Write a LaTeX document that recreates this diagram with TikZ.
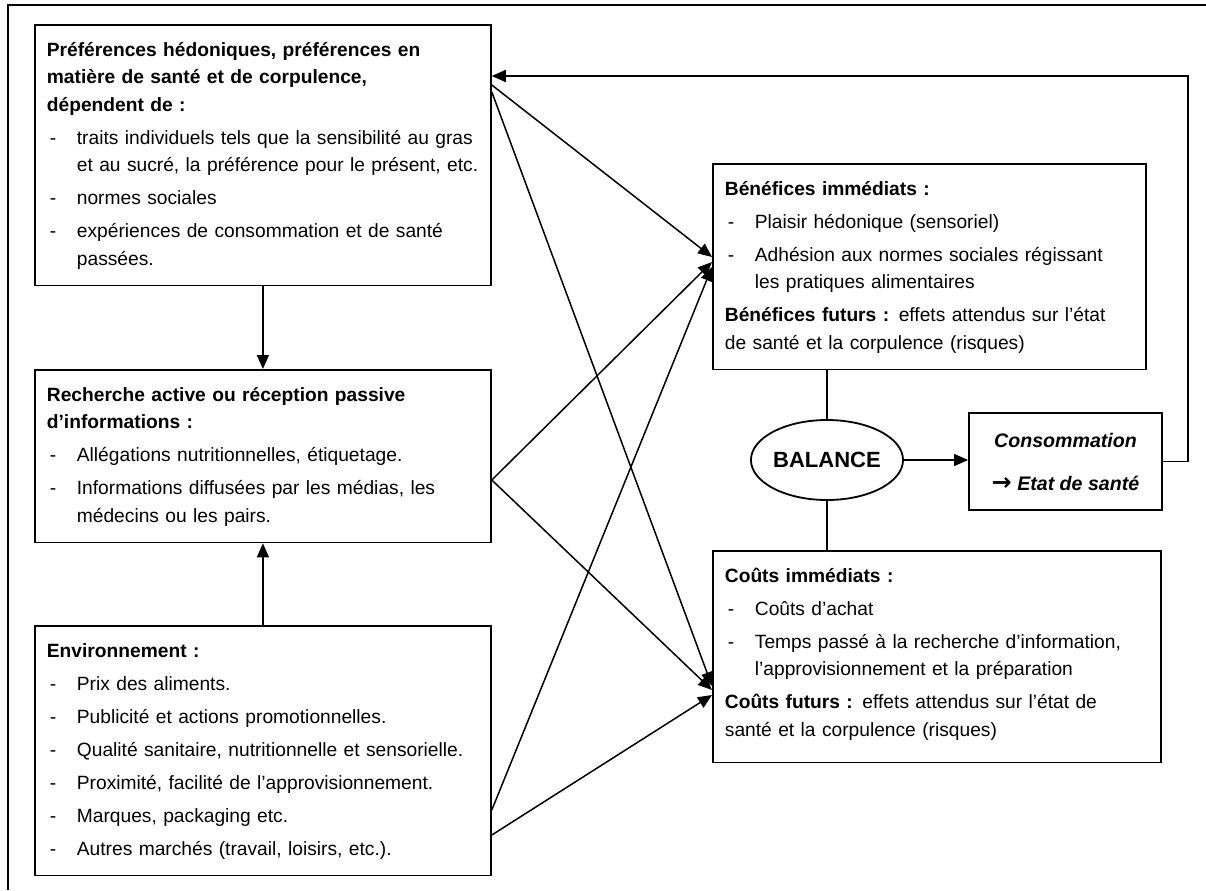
\documentclass[tikz,border=0pt]{standalone}
\usepackage{fontspec}
\setmainfont{Liberation Sans}
\newfontfamily\symb{DejaVu Sans}
\usetikzlibrary{arrows.meta,shapes.geometric}
\newcommand{\tiret}{\hspace{1.5pt}-}
\newcommand{\ligne}[1]{\multicolumn{2}{@{}l@{}}{#1}}
\begin{document}
\begin{tikzpicture}[x=0.5pt, y=-0.5pt,
          boite/.style={draw, line width=0.9pt, anchor=north west,
            text width=#1, inner xsep=6pt, inner ysep=6pt,
            font=\fontsize{9.6}{13.75}\selectfont},
          fleche/.style={-{Triangle[length=7pt,width=6pt]}, line width=0.75pt},
          trait/.style={line width=0.75pt},
          cadre/.style={line width=1pt}]
            \useasboundingbox (0,0) rectangle (1206,890);
            \draw[cadre] (8,890) -- (8,5) -- (1206,5);
            % Left column
            \node[boite=216pt] (pref) at (34,24) {\begin{tabular}{@{}p{15pt}@{}l@{}}
                \ligne{\bfseries Préférences hédoniques, préférences en}\\
                \ligne{\bfseries matière de santé et de corpulence,}\\
                \ligne{\bfseries dépendent de :}\\[2.75pt]
                \tiret & traits individuels tels que la sensibilité au gras\\
                & et au sucré, la préférence pour le présent, etc.\\[2.75pt]
                \tiret & normes sociales\\[2.75pt]
                \tiret & expériences de consommation et de santé\\
                & passées.
                \end{tabular}};
            \node[boite=216pt] (rech) at (34,369) {\begin{tabular}{@{}p{15pt}@{}l@{}}
                \ligne{\bfseries Recherche active ou réception passive}\\
                \ligne{\bfseries d’informations :}\\[2.75pt]
                \tiret & Allégations nutritionnelles, étiquetage.\\[2.75pt]
                \tiret & Informations diffusées par les médias, les\\
                & médecins ou les pairs.
                \end{tabular}};
            \node[boite=216pt] (env) at (34,625) {\begin{tabular}{@{}p{15pt}@{}l@{}}
                \ligne{\bfseries Environnement :}\\[2.75pt]
                \tiret & Prix des aliments.\\[2.75pt]
                \tiret & Publicité et actions promotionnelles.\\[2.75pt]
                \tiret & Qualité sanitaire, nutritionnelle et sensorielle.\\[2.75pt]
                \tiret & Proximité, facilité de l’approvisionnement.\\[2.75pt]
                \tiret & Marques, packaging etc.\\[2.75pt]
                \tiret & Autres marchés (travail, loisirs, etc.).
                \end{tabular}};
            % Right column
            \node[boite=204.5pt] (benef) at (712,163) {\begin{tabular}{@{}p{15pt}@{}l@{}}
                \ligne{\bfseries Bénéfices immédiats :}\\[2.75pt]
                \tiret & Plaisir hédonique (sensoriel)\\[2.75pt]
                \tiret & Adhésion aux normes sociales régissant\\
                & les pratiques alimentaires\\[2.75pt]
                \ligne{\textbf{Bénéfices futurs :} effets attendus sur l’état}\\
                \ligne{de santé et la corpulence (risques)}
                \end{tabular}};
            \node[boite=212pt] (couts) at (712,550) {\begin{tabular}{@{}p{15pt}@{}l@{}}
                \ligne{\bfseries Coûts immédiats :}\\[2.75pt]
                \tiret & Coûts d’achat\\[2.75pt]
                \tiret & Temps passé à la recherche d’information,\\
                & l’approvisionnement et la préparation\\[2.75pt]
                \ligne{\textbf{Coûts futurs :} effets attendus sur l’état de}\\
                \ligne{santé et la corpulence (risques)}\\[3pt]
                \end{tabular}};
            \node[ellipse, draw, line width=0.9pt, minimum width=72pt, minimum height=40pt, inner sep=0pt,
                font=\fontsize{11}{13}\selectfont\bfseries] (bal) at (827,460) {BALANCE};
            \node[draw, line width=0.9pt, minimum width=96.5pt, minimum height=48.5pt, align=center,
                font=\fontsize{9.8}{13.75}\selectfont\bfseries\itshape] (conso) at (1065.5,461.5)
                {Consommation\\[7.75pt] {\symb\upshape\fontsize{12}{12}\selectfont →}\ Etat de santé};
            % Connectors
            \draw[fleche] (pref) -- (rech);
            \draw[fleche] (env) -- (rech);
            \draw[fleche] ([yshift=-30.5pt]pref.north east) -- ([yshift=-47pt]benef.north west);
            \draw[fleche] ([yshift=-34pt]pref.north east) -- ([yshift=-68pt]couts.north west);
            \draw[fleche] ([yshift=-55.5pt]rech.north east) -- ([yshift=-49.5pt]benef.north west);
            \draw[fleche] ([yshift=-55.5pt]rech.north east) -- ([yshift=-70pt]couts.north west);
            \draw[fleche] ([yshift=-92.5pt]env.north east) -- ([yshift=-52pt]benef.north west);
            \draw[fleche] ([yshift=-105pt]env.north east) -- ([yshift=-72.5pt]couts.north west);
            \draw[trait] (bal.north) -- (bal.north |- benef.south);
            \draw[trait] (bal.south) -- (bal.south |- couts.north);
            \draw[fleche] (bal.east) -- (bal.east -| conso.west);
            \draw[fleche] (conso.east) -- ++(12.5pt,0) |- ([yshift=-26pt]pref.north east);
\end{tikzpicture}
\end{document}
